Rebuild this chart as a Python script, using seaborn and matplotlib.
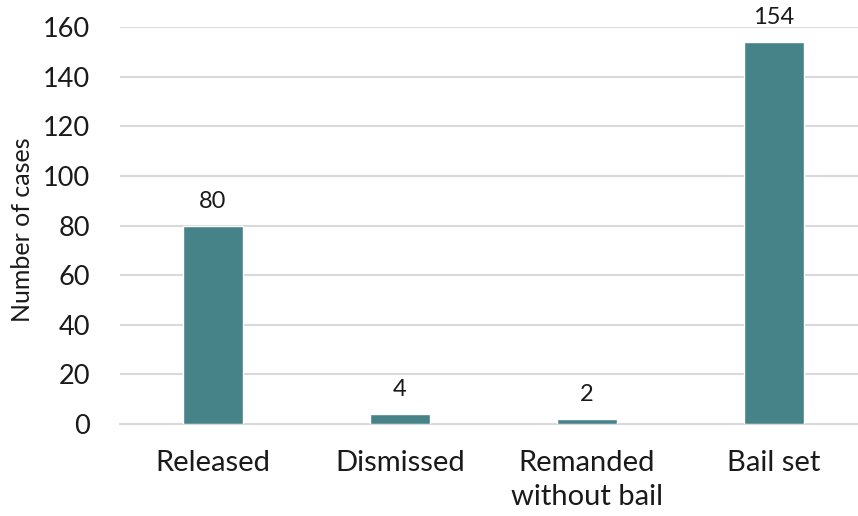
import pandas as pd
import matplotlib.pyplot as plt
import seaborn as sns

# Dados do gráfico
categorias = ["Released", "Dismissed", "Remanded\nwithout bail", "Bail set"]
casos = [80, 4, 2, 154]

df = pd.DataFrame({"Outcome": categorias, "Cases": casos})

sns.set_style("white")
plt.rcParams["font.family"] = ["Lato", "DejaVu Sans"]

fig = plt.figure(figsize=(8.58, 5.16), dpi=100)
ax = fig.add_axes([119.5 / 858, 92 / 516, 748 / 858, 397 / 516])

sns.barplot(data=df, x="Outcome", y="Cases", color="#458389", width=0.32,
            saturation=1, ax=ax, zorder=3)

# Rótulos de valor acima das barras
for i, v in enumerate(casos):
    ax.text(i, v + 5.5, str(v), ha="center", va="bottom", fontsize=17, color="#1a1a1a")

ax.set_ylim(0, 160)
ax.set_yticks(range(0, 161, 20))
ax.yaxis.grid(True, color="#d9d9d9", linewidth=1.5, zorder=0)
ax.set_axisbelow(True)
for s in ["top", "right", "left"]:
    ax.spines[s].set_visible(False)
ax.spines["bottom"].set_color("#d9d9d9")
ax.spines["bottom"].set_linewidth(1.5)

ax.tick_params(axis="y", length=0, pad=21, labelsize=19.5, labelcolor="#1a1a1a")
ax.tick_params(axis="x", length=0, pad=19, labelsize=21, labelcolor="#1a1a1a")
for lbl in ax.get_xticklabels():
    lbl.set_linespacing(1.35)
ax.set_xlabel("")
ax.set_ylabel("Number of cases", fontsize=18, color="#1a1a1a")
ax.yaxis.set_label_coords(-0.114, 0.49)

fig.savefig("out.png", dpi=100)
